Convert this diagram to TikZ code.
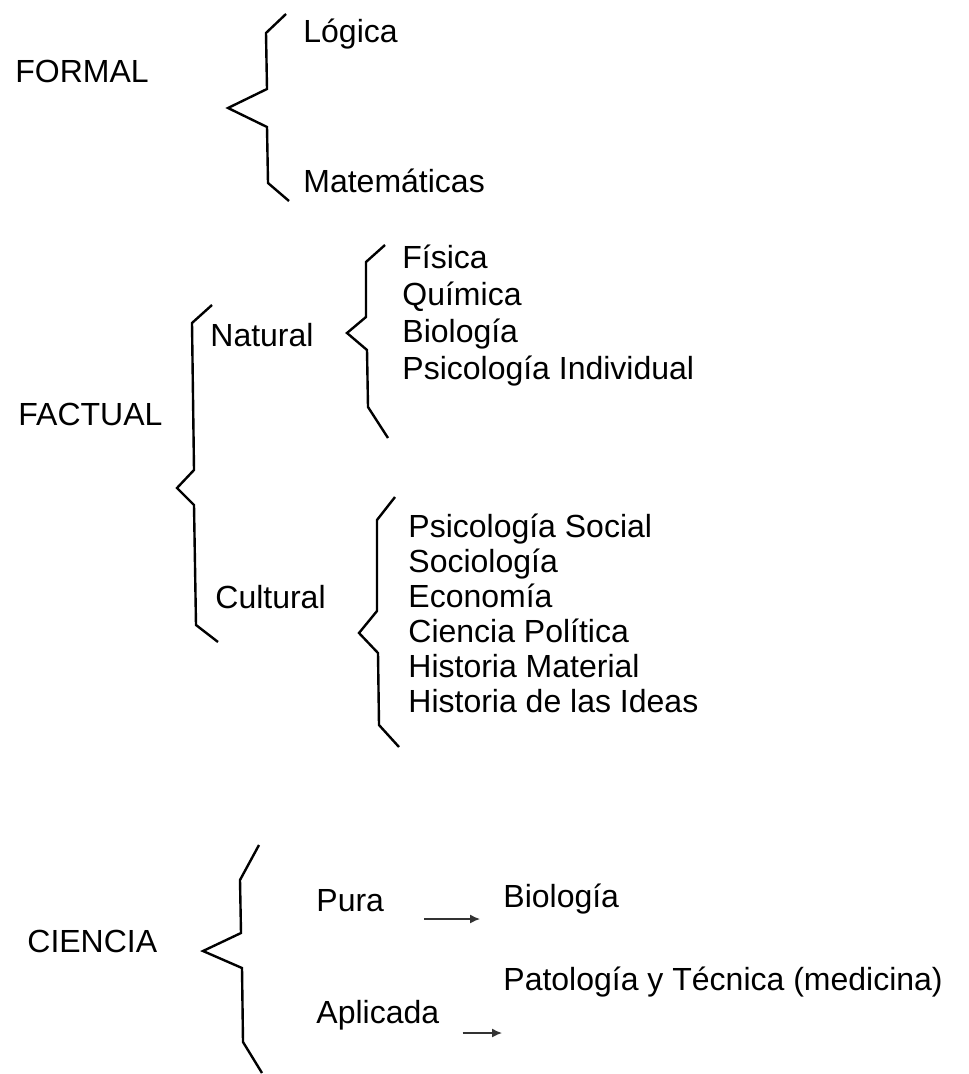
\documentclass[tikz,border=0pt]{standalone}
\usepackage{fontspec}
\setmainfont{Liberation Sans}
\usepackage{tikz}
\usetikzlibrary{arrows.meta}

\begin{document}
\begin{tikzpicture}[
        x=0.5pt, y=-0.5pt,
        lbl/.style={anchor=base west, inner sep=0pt, font=\fontsize{16}{19}\selectfont},
        brace/.style={line width=1.2pt, line join=miter},
        arrow/.style={-{Latex[length=5pt, width=4.5pt]}, line width=0.7pt, black!80}
    ]
    \useasboundingbox (0,0) rectangle (968,1074);

    % formal
    \node[lbl] (formal) at (15,83) {FORMAL};
    \node[lbl] (logica) at (303,43) {Lógica};
    \node[lbl] (mate) at (303,193) {Matemáticas};
    \draw[brace] (286,14) -- (266,33) -- (267,89) -- (228,108) -- (267,127) -- (268,183) -- (289,201);

    % factual
    \node[lbl] (factual) at (18,425) {FACTUAL};
    \node[lbl] (natural) at (210,347) {Natural};
    \node[lbl] (cultural) at (215,608) {Cultural};
    \draw[brace] (212,305) -- (192,323) -- (194,470) -- (177,488) -- (194,505) -- (196,625) -- (218,642);

    \foreach \t [count=\i] in {Física, Química, Biología, Psicología Individual}
        \node[lbl] (nat\i) at (402, {269+36.7*(\i-1)}) {\t};
    \draw[brace] (385,245) -- (366,262) -- (366,317) -- (347,333) -- (367,350) -- (368,407) -- (388,438);

    \foreach \t [count=\i] in {Psicología Social, Sociología, Economía, Ciencia Política, Historia Material, Historia de las Ideas}
        \node[lbl] (cul\i) at (408, {537+35*(\i-1)}) {\t};
    \draw[brace] (395,497) -- (377,520) -- (377,611) -- (359,633) -- (378,653) -- (379,725) -- (399,747);

    % ciencia
    \node[lbl] (ciencia) at (27,952) {CIENCIA};
    \node[lbl] (pura) at (316,911) {Pura};
    \node[lbl] (aplicada) at (316,1023) {Aplicada};
    \node[lbl] (bio) at (503,907) {Biología};
    \node[lbl] (pato) at (503,990) {Patología y Técnica (medicina)};
    \draw[brace] (259,845) -- (240,880) -- (241,933) -- (203,951) -- (242,968) -- (243,1042) -- (262,1073);

    \draw[arrow] ([xshift=20pt, yshift=-4pt]pura.base east) -- ([xshift=-11.5pt, yshift=-6pt]bio.base west);
    \draw[arrow] ([xshift=11.5pt, yshift=-5pt]aplicada.base east) -- ([xshift=-0.5pt, yshift=-21.5pt]pato.base west);
\end{tikzpicture}
\end{document}
